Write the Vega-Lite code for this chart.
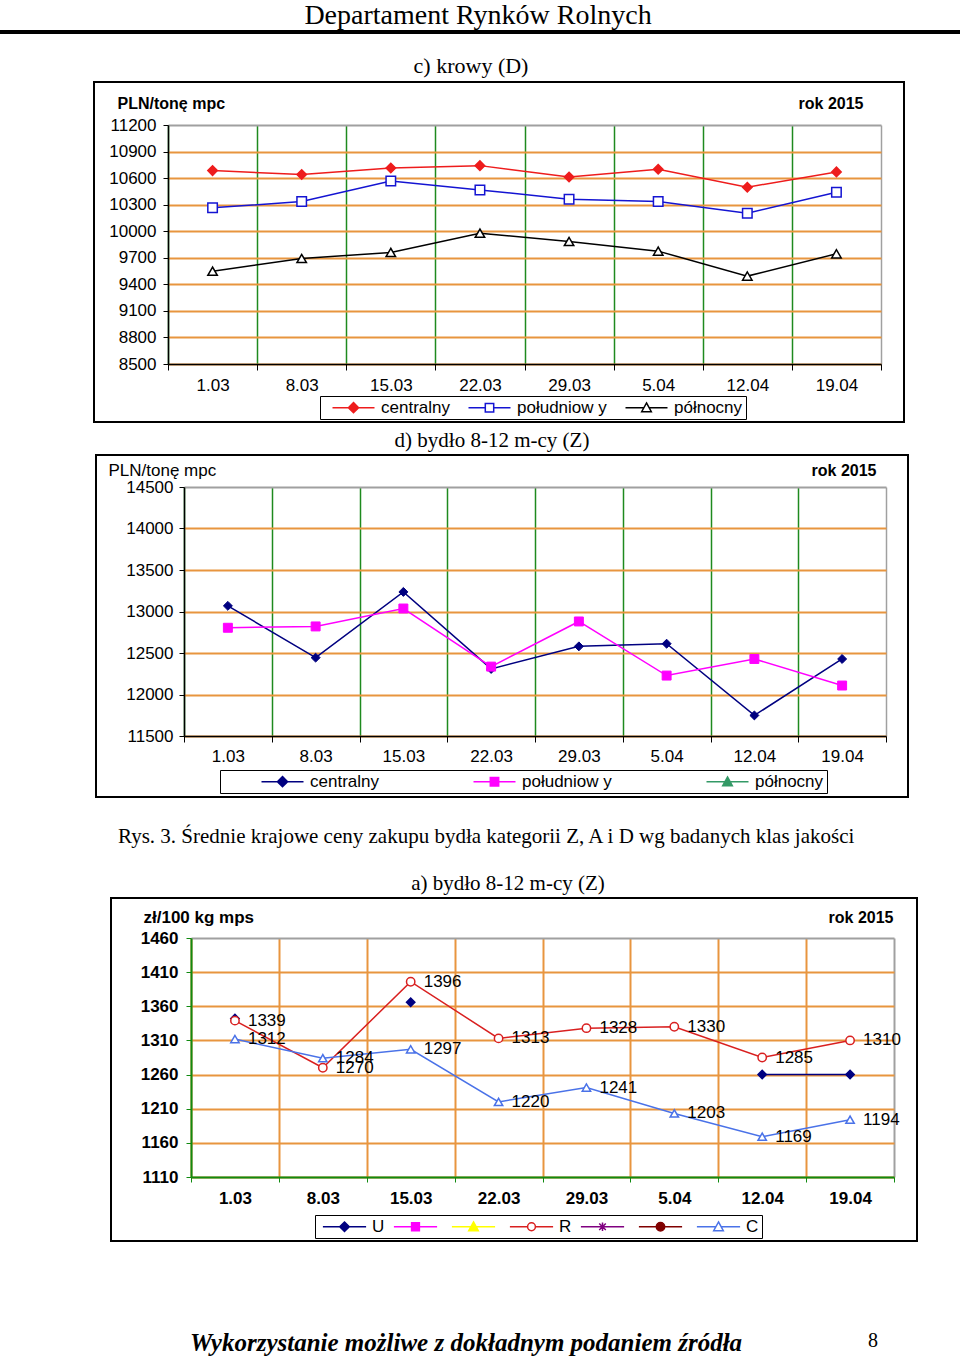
{
  "$schema": "https://vega.github.io/schema/vega-lite/v6.json",
  "background": "white",
  "padding": {"left": 0, "top": 2, "right": 0, "bottom": 0},
  "spacing": 28,
  "resolve": {"scale": {"stroke": "independent"}},
  "config": {
    "view": {"stroke": null},
    "font": "Liberation Sans",
    "title": {"font": "Liberation Serif", "fontWeight": "normal", "color": "black", "fontSize": 20},
    "axis": {"labelColor": "black", "titleColor": "black", "labelFont": "Liberation Sans", "titleFont": "Liberation Sans", "labelAngle": 0},
    "legend": {"labelFont": "Liberation Sans", "labelColor": "black"}
  },
  "vconcat": [
    {
      "spacing": 20,
      "resolve": {"scale": {"stroke": "independent"}},
      "vconcat": [
        {
          "width": 960, "height": 4,
          "view": {"fill": "black", "stroke": null},
          "data": {"values": []},
          "mark": "point",
          "title": {"text": "Departament Rynków Rolnych", "fontSize": 28, "anchor": "middle", "dx": -2, "offset": 0}
        },
        {
          "spacing": 6,
          "resolve": {"scale": {"stroke": "independent"}},
          "vconcat": [
            {
              "spacing": 0,
              "hconcat": [
                {"width": 93, "height": 1, "data": {"values": []}, "mark": "point"},
                {
                  "width": 810, "height": 340,
                  "view": {"stroke": "black", "strokeWidth": 2, "fill": "white"},
                  "title": {"text": "c) krowy  (D)", "fontSize": 22, "offset": 4, "dx": -28},
                  "data": {"values": [
                    {"d": "1.03", "s": "centralny", "v": 10685}, {"d": "8.03", "s": "centralny", "v": 10640}, {"d": "15.03", "s": "centralny", "v": 10715}, {"d": "22.03", "s": "centralny", "v": 10741},
                    {"d": "29.03", "s": "centralny", "v": 10613}, {"d": "5.04", "s": "centralny", "v": 10700}, {"d": "12.04", "s": "centralny", "v": 10497}, {"d": "19.04", "s": "centralny", "v": 10670},
                    {"d": "1.03", "s": "południow y", "v": 10264}, {"d": "8.03", "s": "południow y", "v": 10335}, {"d": "15.03", "s": "południow y", "v": 10568}, {"d": "22.03", "s": "południow y", "v": 10467},
                    {"d": "29.03", "s": "południow y", "v": 10362}, {"d": "5.04", "s": "południow y", "v": 10335}, {"d": "12.04", "s": "południow y", "v": 10204}, {"d": "19.04", "s": "południow y", "v": 10440},
                    {"d": "1.03", "s": "północny", "v": 9549}, {"d": "8.03", "s": "północny", "v": 9692}, {"d": "15.03", "s": "północny", "v": 9760}, {"d": "22.03", "s": "północny", "v": 9978},
                    {"d": "29.03", "s": "północny", "v": 9884}, {"d": "5.04", "s": "północny", "v": 9775}, {"d": "12.04", "s": "północny", "v": 9493}, {"d": "19.04", "s": "północny", "v": 9745}
                  ]},
                  "encoding": {
                    "x": {"field": "d", "type": "nominal", "sort": ["1.03","8.03","15.03","22.03","29.03","5.04","12.04","19.04"],
                      "scale": {"type": "band", "range": [74, 787], "paddingInner": 0, "paddingOuter": 0},
                      "axis": {"orient": "top", "offset": -282, "tickBand": "extent", "tickSize": -6, "labelPadding": -7, "labelBaseline": "top", "labelFontSize": 17,
                        "domainColor": "black", "tickColor": "black", "domainWidth": 1.5,
                        "grid": true, "gridColor": {"condition": {"test": "datum.value === '19.04'", "value": "#A0A0A0"}, "value": "#1E8A1E"}, "gridWidth": 1.5,
                        "title": "rok 2015", "titleX": 769, "titleY": -261, "titleAlign": "right", "titleBaseline": "middle", "titleFontSize": 16, "titleFontWeight": "bold"}},
                    "y": {"field": "v", "type": "quantitative",
                      "scale": {"domain": [8500, 11200], "range": [282, 43], "nice": false, "zero": false},
                      "axis": {"orient": "left", "offset": -74, "values": [8500,8800,9100,9400,9700,10000,10300,10600,10900,11200], "format": "d",
                        "tickSize": 5, "labelPadding": 7, "labelFontSize": 17, "domainColor": "black", "tickColor": "black", "domainWidth": 1.5,
                        "grid": true, "gridColor": {"condition": {"test": "datum.value === 11200", "value": "#A0A0A0"}, "value": "#E8953F"}, "gridWidth": 2,
                        "title": "PLN/tonę mpc", "titleAngle": 0, "titleX": -51, "titleY": 21, "titleAlign": "left", "titleBaseline": "middle", "titleFontSize": 16, "titleFontWeight": "bold"}}
                  },
                  "layer": [
                    {
                      "mark": {"type": "line", "strokeWidth": 1.5},
                      "encoding": {
                        "stroke": {"field": "s", "type": "nominal",
                          "scale": {"domain": ["centralny", "południow y", "północny"], "range": ["#EE1C1C", "#1414D2", "#000000"]},
                          "legend": {"orient": "none", "legendX": 320, "legendY": 314, "direction": "horizontal", "columns": 3, "title": null,
                            "strokeColor": "black", "fillColor": "white", "padding": 3, "symbolSize": 144, "symbolStrokeWidth": 1.5,
                            "symbolOffset": 22, "labelOffset": 19, "labelFontSize": 17, "columnPadding": 9,
                            "encode": {"symbols": {"update": {
                              "shape": {"signal": "['M-3.5,0H3.5M0,-0.85L0.85,0L0,0.85L-0.85,0Z','M-3.5,0H-0.7M0.7,0H3.5M-0.7,-0.7H0.7V0.7H-0.7Z','M-3.5,0H-0.45M0.45,0H3.5M0,-0.8L0.8,0.65H-0.8Z'][datum.index]"},
                              "fill": {"signal": "['#EE1C1C','white','white'][datum.index]"}}}}}}
                      }
                    },
                    {
                      "mark": {"type": "point", "filled": true, "size": 90, "strokeWidth": 1.5, "opacity": 1},
                      "encoding": {
                        "stroke": {"field": "s", "type": "nominal"},
                        "shape": {"condition": [{"test": "datum.s === 'centralny'", "value": "diamond"}, {"test": "datum.s === 'północny'", "value": "triangle-up"}], "value": "square"},
                        "fill": {"condition": {"test": "datum.s === 'centralny'", "value": "#EE1C1C"}, "value": "white"}
                      }
                    }
                  ]
                }
              ]
            },
            {
              "spacing": 0,
              "hconcat": [
                {"width": 95, "height": 1, "data": {"values": []}, "mark": "point"},
                {
                  "width": 812, "height": 342,
                  "view": {"stroke": "black", "strokeWidth": 2, "fill": "white"},
                  "title": {"text": "d) bydło 8-12 m-cy (Z)", "fontSize": 21, "offset": 4, "dx": -10},
                  "data": {"values": [
                    {"d": "1.03", "s": "centralny", "v": 13068}, {"d": "8.03", "s": "centralny", "v": 12444}, {"d": "15.03", "s": "centralny", "v": 13236}, {"d": "22.03", "s": "centralny", "v": 12308},
                    {"d": "29.03", "s": "centralny", "v": 12580}, {"d": "5.04", "s": "centralny", "v": 12612}, {"d": "12.04", "s": "centralny", "v": 11748}, {"d": "19.04", "s": "centralny", "v": 12428},
                    {"d": "1.03", "s": "południow y", "v": 12804}, {"d": "8.03", "s": "południow y", "v": 12820}, {"d": "15.03", "s": "południow y", "v": 13036}, {"d": "22.03", "s": "południow y", "v": 12336},
                    {"d": "29.03", "s": "południow y", "v": 12880}, {"d": "5.04", "s": "południow y", "v": 12228}, {"d": "12.04", "s": "południow y", "v": 12428}, {"d": "19.04", "s": "południow y", "v": 12108}
                  ]},
                  "encoding": {
                    "x": {"field": "d", "type": "nominal", "sort": ["1.03","8.03","15.03","22.03","29.03","5.04","12.04","19.04"],
                      "scale": {"type": "band", "range": [88, 790], "paddingInner": 0, "paddingOuter": 0},
                      "axis": {"orient": "top", "offset": -281, "tickBand": "extent", "tickSize": -6, "labelPadding": -6, "labelBaseline": "top", "labelFontSize": 17,
                        "domainColor": "black", "tickColor": "black", "domainWidth": 1.5,
                        "grid": true, "gridColor": {"condition": {"test": "datum.value === '19.04'", "value": "#A0A0A0"}, "value": "#1E8A1E"}, "gridWidth": 1.5,
                        "title": "rok 2015", "titleX": 780, "titleY": -266, "titleAlign": "right", "titleBaseline": "middle", "titleFontSize": 16, "titleFontWeight": "bold"}},
                    "y": {"field": "v", "type": "quantitative",
                      "scale": {"domain": [11500, 14500], "range": [281, 32], "nice": false, "zero": false},
                      "axis": {"orient": "left", "offset": -88, "values": [11500,12000,12500,13000,13500,14000,14500], "format": "d",
                        "tickSize": 5, "labelPadding": 6, "labelFontSize": 17, "domainColor": "black", "tickColor": "black", "domainWidth": 1.5,
                        "grid": true, "gridColor": {"condition": {"test": "datum.value === 14500", "value": "#A0A0A0"}, "value": "#E8953F"}, "gridWidth": 2,
                        "title": "PLN/tonę mpc", "titleAngle": 0, "titleX": -76, "titleY": 15, "titleAlign": "left", "titleBaseline": "middle", "titleFontSize": 17, "titleFontWeight": "normal"}}
                  },
                  "layer": [
                    {
                      "mark": {"type": "line", "strokeWidth": 1.5},
                      "encoding": {
                        "stroke": {"field": "s", "type": "nominal",
                          "scale": {"domain": ["centralny", "południow y", "północny"], "range": ["#000080", "#FF00FF", "#339966"]},
                          "legend": {"orient": "none", "legendX": 220, "legendY": 315, "direction": "horizontal", "columns": 3, "title": null,
                            "strokeColor": "black", "fillColor": "white", "padding": 3, "symbolSize": 144, "symbolStrokeWidth": 1.5,
                            "symbolOffset": 51, "labelOffset": 19, "labelFontSize": 17, "columnPadding": 56,
                            "encode": {"symbols": {"update": {
                              "shape": {"signal": "['M-3.5,0H3.5M0,-0.85L0.85,0L0,0.85L-0.85,0Z','M-3.5,0H3.5M-0.7,-0.7H0.7V0.7H-0.7Z','M-3.5,0H3.5M0,-0.8L0.8,0.65H-0.8Z'][datum.index]"},
                              "fill": {"signal": "['#000080','#FF00FF','#339966'][datum.index]"}}}}}}
                      }
                    },
                    {
                      "mark": {"type": "point", "filled": true, "size": 80, "strokeWidth": 1, "opacity": 1},
                      "encoding": {
                        "stroke": {"field": "s", "type": "nominal"},
                        "shape": {"condition": [{"test": "datum.s === 'centralny'", "value": "diamond"}, {"test": "datum.s === 'północny'", "value": "triangle-up"}], "value": "square"},
                        "fill": {"condition": [{"test": "datum.s === 'centralny'", "value": "#000080"}, {"test": "datum.s === 'północny'", "value": "#339966"}], "value": "#FF00FF"}
                      }
                    }
                  ]
                }
              ]
            }
          ]
        }
      ]
    },
    {
      "title": {"text": "Rys. 3. Średnie krajowe ceny zakupu bydła kategorii Z, A i D wg badanych klas jakości", "anchor": "start", "dx": 118, "offset": 25, "fontSize": 21},
      "vconcat": [
        {
          "spacing": 0,
          "hconcat": [
            {"width": 110, "height": 1, "data": {"values": []}, "mark": "point"},
            {
              "width": 806, "height": 343,
              "view": {"stroke": "black", "strokeWidth": 2, "fill": "white"},
              "title": {"text": "a)   bydło 8-12 m-cy (Z)", "fontSize": 21, "offset": 4, "dx": -6},
              "data": {"values": [
                {"d": "1.03", "s": "U", "v": 1342}, {"d": "8.03", "s": "U", "v": null}, {"d": "15.03", "s": "U", "v": 1366}, {"d": "22.03", "s": "U", "v": null},
                {"d": "29.03", "s": "U", "v": null}, {"d": "5.04", "s": "U", "v": null}, {"d": "12.04", "s": "U", "v": 1260}, {"d": "19.04", "s": "U", "v": 1260},
                {"d": "1.03", "s": "R", "v": 1339}, {"d": "8.03", "s": "R", "v": 1270}, {"d": "15.03", "s": "R", "v": 1396}, {"d": "22.03", "s": "R", "v": 1313},
                {"d": "29.03", "s": "R", "v": 1328}, {"d": "5.04", "s": "R", "v": 1330}, {"d": "12.04", "s": "R", "v": 1285}, {"d": "19.04", "s": "R", "v": 1310},
                {"d": "1.03", "s": "C", "v": 1312}, {"d": "8.03", "s": "C", "v": 1284}, {"d": "15.03", "s": "C", "v": 1297}, {"d": "22.03", "s": "C", "v": 1220},
                {"d": "29.03", "s": "C", "v": 1241}, {"d": "5.04", "s": "C", "v": 1203}, {"d": "12.04", "s": "C", "v": 1169}, {"d": "19.04", "s": "C", "v": 1194}
              ]},
              "encoding": {
                "x": {"field": "d", "type": "nominal", "sort": ["1.03","8.03","15.03","22.03","29.03","5.04","12.04","19.04"],
                  "scale": {"type": "band", "range": [80, 783], "paddingInner": 0, "paddingOuter": 0},
                  "axis": {"orient": "top", "offset": -279, "tickBand": "extent", "tickSize": -5, "labelPadding": -8, "labelBaseline": "top", "labelFontSize": 17, "labelFontWeight": "bold",
                    "domainColor": "#108A10", "tickColor": "#108A10", "domainWidth": 2,
                    "grid": true, "gridColor": {"condition": {"test": "datum.value === '19.04'", "value": "#A0A0A0"}, "value": "#E8953F"}, "gridWidth": 2,
                    "title": "rok 2015", "titleX": 782, "titleY": -260, "titleAlign": "right", "titleBaseline": "middle", "titleFontSize": 16, "titleFontWeight": "bold"}},
                "y": {"field": "v", "type": "quantitative",
                  "scale": {"domain": [1110, 1460], "range": [279, 40], "nice": false, "zero": false},
                  "axis": {"orient": "left", "offset": -80, "values": [1110,1160,1210,1260,1310,1360,1410,1460], "format": "d",
                    "tickSize": 5, "labelPadding": 8, "labelFontSize": 17, "labelFontWeight": "bold", "domainColor": "#108A10", "tickColor": "#108A10", "domainWidth": 2,
                    "grid": true, "gridColor": {"condition": {"test": "datum.value === 1460", "value": "#A0A0A0"}, "value": "#E8953F"}, "gridWidth": 2,
                    "title": "zł/100 kg mps", "titleAngle": 0, "titleX": -48, "titleY": 19, "titleAlign": "left", "titleBaseline": "middle", "titleFontSize": 17, "titleFontWeight": "bold"}}
              },
              "layer": [
                {
                  "mark": {"type": "line", "strokeWidth": 1.5, "invalid": "break-paths-show-domains"},
                  "encoding": {
                    "stroke": {"field": "s", "type": "nominal",
                      "scale": {"domain": ["U", " ", "  ", "R", "   ", "    ", "C"], "range": ["#000080", "#FF00FF", "#FFFF00", "#D92020", "#800080", "#800000", "#4A72E8"]},
                      "legend": {"orient": "none", "legendX": 315, "legendY": 317, "direction": "horizontal", "columns": 7, "title": null,
                        "strokeColor": "black", "fillColor": "white", "padding": 3, "symbolSize": 144, "symbolStrokeWidth": 1.5,
                        "symbolOffset": 18, "labelOffset": 19, "labelFontSize": 17, "columnPadding": 4,
                        "encode": {"symbols": {"update": {
                          "shape": {"signal": "['M-3.6,0H3.6M0,-0.8L0.8,0L0,0.8L-0.8,0Z','M-3.6,0H3.6M-0.65,-0.65H0.65V0.65H-0.65Z','M-3.6,0H3.6M0,-0.8L0.8,0.65H-0.8Z','M-3.6,0H-0.65M0.65,0H3.6M-0.65,0A0.65,0.65 0 1,0 0.65,0A0.65,0.65 0 1,0 -0.65,0Z','M-3.6,0H3.6M-0.55,-0.55L0.55,0.55M-0.55,0.55L0.55,-0.55M0,-0.7V0.7','M-3.6,0H3.6M-0.7,0A0.7,0.7 0 1,0 0.7,0A0.7,0.7 0 1,0 -0.7,0Z','M-3.6,0H-0.45M0.45,0H3.6M0,-0.8L0.8,0.65H-0.8Z'][datum.index]"},
                          "fill": {"signal": "['#000080','#FF00FF','#FFFF00','white','#800080','#800000','white'][datum.index]"}}}}}}
                  }
                },
                {
                  "mark": {"type": "point", "filled": true, "size": 70, "strokeWidth": 1.5, "opacity": 1},
                  "encoding": {
                    "stroke": {"field": "s", "type": "nominal"},
                    "shape": {"condition": [{"test": "datum.s === 'U'", "value": "diamond"}, {"test": "datum.s === 'C'", "value": "triangle-up"}], "value": "circle"},
                    "fill": {"condition": {"test": "datum.s === 'U'", "value": "#000080"}, "value": "white"}
                  }
                },
                {
                  "transform": [{"filter": "datum.s === 'R' || datum.s === 'C'"}],
                  "mark": {"type": "text", "align": "left", "baseline": "middle", "dx": 13, "fontSize": 17, "color": "black"},
                  "encoding": {"text": {"field": "v", "type": "quantitative", "format": "d"}}
                }
              ]
            }
          ]
        }
      ]
    },
    {
      "spacing": 0,
      "hconcat": [
        {"width": 860, "height": 1, "data": {"values": []}, "mark": "point",
          "title": {"text": "Wykorzystanie możliwe z dokładnym podaniem źródła", "orient": "bottom", "anchor": "start", "dx": 190, "offset": 60, "fontSize": 25, "fontStyle": "italic", "fontWeight": "bold"}},
        {"width": 30, "height": 1, "data": {"values": []}, "mark": "point",
          "title": {"text": "8", "orient": "bottom", "anchor": "start", "dx": 8, "offset": 60, "fontSize": 20}}
      ]
    }
  ]
}
